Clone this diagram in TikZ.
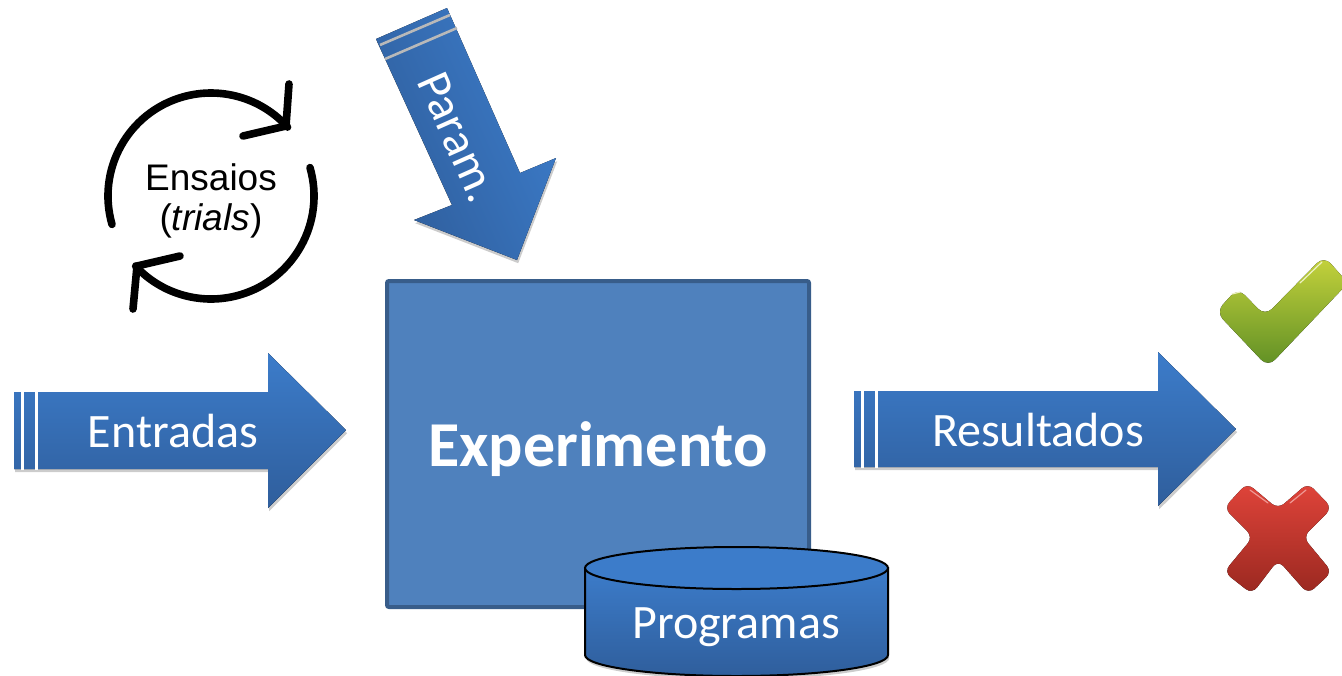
\documentclass[tikz,border=0pt]{standalone}
\usepackage{fontspec}
\setmainfont{Carlito}
\newfontfamily\arialfont{Liberation Sans}
\usetikzlibrary{shadows}
\definecolor{boxfill}{HTML}{4F81BD}
\definecolor{boxline}{HTML}{385D8A}
\definecolor{bluetop}{HTML}{3C7CCA}
\definecolor{bluebot}{HTML}{2F5E9C}
\definecolor{checktop}{HTML}{C6D33C}
\definecolor{checkbot}{HTML}{5F8F25}
\definecolor{crosstop}{HTML}{E0443A}
\definecolor{crossbot}{HTML}{9A2820}
\tikzset{
	softshadow/.style={drop shadow={shadow xshift=0.6pt, shadow yshift=-1.6pt, opacity=0.2, fill=black}},
	bluearrow/.style={top color=bluetop, bottom color=bluebot, softshadow},
	gapline/.style={line width=1.5pt, white},
	looparrow/.style={line width=3.8pt, line cap=round, miter limit=10},
	whitetext/.style={white, font=\fontsize{24}{26}\selectfont},
	looptext/.style={font=\arialfont\fontsize{18.5}{20}\selectfont}
}
\begin{document}
\begin{tikzpicture}[x=0.5pt, y=-0.5pt]
	\useasboundingbox (0,0) rectangle (1342,675);

	\fill[bluearrow] (14,392)--(268,392)--(268,353)--(346,430)--(268,508)--(268,469)--(14,469)--cycle;
	\draw[gapline] (22.5,391)--(22.5,470);
	\draw[gapline] (36.5,391)--(36.5,470);
	\node[whitetext] (entradas) at (173,431) {Entradas};

	\fill[bluearrow] (854,391)--(1158,391)--(1158,352)--(1236,429)--(1158,506)--(1158,467)--(854,467)--cycle;
	\draw[gapline] (862.5,390)--(862.5,468);
	\draw[gapline] (876.5,390)--(876.5,468);
	\node[whitetext] (resultados) at (1038,430) {Resultados};

	\fill[top color=bluetop, bottom color=bluebot, shading angle=-66, softshadow] (376,39)--(447,8)--(520,173)--(556,158)--(517,260)--(414,220)--(452,205)--cycle;
	\draw[line width=1.3pt, gray!55] (380,45)--(450,15);
	\draw[line width=1.3pt, gray!55] (385,59)--(457,28);
	\node[whitetext, rotate=-66] (param) at (458,137) {Param.};

	\draw[line width=2pt, boxline, fill=boxfill, rounded corners=1pt] (387,281) rectangle (809,607);
	\node[white, font=\fontsize{32}{34}\selectfont\bfseries] (experimento) at (598,449) {Experimento};

	\draw[top color=bluetop, bottom color=bluebot, softshadow, line width=1pt] (585,568)--(585,655) arc (180:0:151.5 and 21)--(888,568)--cycle;
	\draw[fill=bluetop, line width=1pt] (736.5,568) ellipse (151.5 and 21);
	\node[whitetext] (programas) at (736,627) {Programas};

	\coordinate (loopc) at (211,196);
	\draw[looparrow] ([shift={(164:103)}]loopc) arc (164:318:103);
	\draw[looparrow] (289,84)--(286,126)--(243,136);
	\draw[looparrow] ([shift={(-16:103)}]loopc) arc (-16:137:103);
	\draw[looparrow] (180,256)--(137,266)--(133,309);
	\node[looptext] (ensaios) at (211,177) {Ensaios};
	\node[looptext] (trials) at (211,221) {(\textit{trials})};

	\fill[top color=checktop, bottom color=checkbot, rounded corners=5pt] (1216,312)--(1238,288)--(1265,316)--(1324,256)--(1348,283)--(1268,367)--cycle;
	\draw[line width=0.6pt, white!70!checktop, line cap=round] (1232,294)--(1240,292);
	\draw[line width=0.6pt, white!70!checktop, line cap=round] (1300,283)--(1322,262);
	\fill[top color=crosstop, bottom color=crossbot, rounded corners=4pt] (1247,483)--(1278,509)--(1308,483)--(1332,508)--(1303,537)--(1332,572)--(1308,594)--(1278,560)--(1252,594)--(1224,572)--(1253,537)--(1224,508)--cycle;
	\draw[line width=0.6pt, white!45!crosstop, line cap=round] (1250,490)--(1268,503);
	\draw[line width=0.6pt, white!45!crosstop, line cap=round] (1290,503)--(1306,490);
\end{tikzpicture}
\end{document}
